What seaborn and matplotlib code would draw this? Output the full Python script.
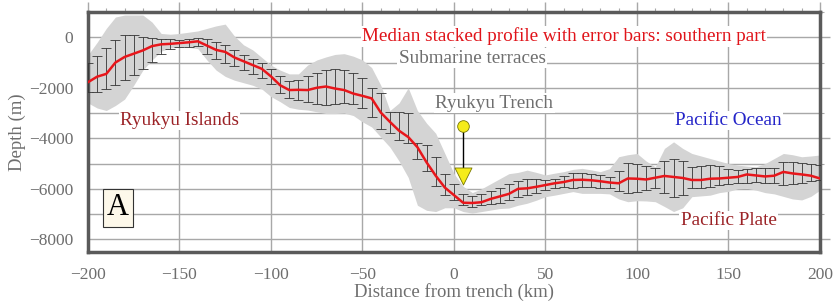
import numpy as np
import pandas as pd
import seaborn as sns
import matplotlib.pyplot as plt
from matplotlib.ticker import MultipleLocator

# distance from trench (km), every 5 km
distance = list(range(-200, 205, 5))

# median stacked depth (m)
median = [-1780, -1560, -1450, -1000, -780, -650, -520, -350, -280, -260,
          -230, -200, -160, -330, -500, -580, -800, -950, -1100, -1250,
          -1550, -1900, -2090, -2080, -2090, -2000, -1950, -2030, -2090, -2230,
          -2320, -2420, -2980, -3350, -3700, -3950, -4350, -4950, -5480, -5950,
          -6250, -6550, -6560, -6530, -6400, -6300, -6200, -6000, -5980, -5920,
          -5850, -5780, -5730, -5650, -5640, -5660, -5700, -5750, -5780, -5590,
          -5600, -5630, -5560, -5490, -5530, -5570, -5650, -5650, -5600, -5590,
          -5560, -5530, -5430, -5470, -5510, -5480, -5330, -5390, -5430, -5480,
          -5590]

# error bar top / bottom (m)
err_hi = [-1000, -750, -420, -100, 90, 70, 20, -20, -50, -80,
          -100, -60, -20, -80, -200, -300, -500, -700, -850, -1000,
          -1250, -1550, -1750, -1700, -1550, -1400, -1300, -1270, -1280, -1400,
          -1600, -2000, -2200, -2950, -2950, -3000, -4200, -4250, -4750, -5400,
          -5800, -6200, -6300, -6200, -6100, -5950, -5800, -5700, -5600, -5600,
          -5650, -5600, -5500, -5390, -5390, -5400, -5450, -5520, -5300, -4990,
          -5030, -5100, -5190, -4900, -4800, -4900, -5130, -5100, -5060, -5100,
          -5200, -5260, -5200, -5190, -5190, -5190, -4950, -4950, -4990, -5030,
          -5060]
err_lo = [-2150, -2150, -2050, -1900, -1700, -1500, -1250, -980, -650, -470,
          -400, -380, -350, -650, -850, -1000, -1150, -1300, -1450, -1600,
          -1850, -2200, -2400, -2500, -2580, -2650, -2690, -2650, -2600, -2650,
          -2800, -3150, -3650, -3800, -4050, -4200, -4800, -5300, -5900, -6250,
          -6450, -6650, -6700, -6650, -6600, -6550, -6450, -6330, -6250, -6150,
          -6050, -5980, -5920, -5980, -5920, -5920, -5950, -5980, -6100, -6180,
          -6140, -6050, -5980, -6150, -6310, -6250, -5980, -5950, -5920, -5850,
          -5800, -5780, -5750, -5720, -5750, -5780, -5850, -5800, -5780, -5700,
          -5650]

# min / max envelope (m)
env_hi = [-700, -200, 350, 800, 880, 880, 880, 600, 150, 120,
          150, 200, 250, 350, 450, 520, 50, -300, -500, -800,
          -1100, -1300, -1450, -1450, -1100, -900, -780, -680, -650, -750,
          -900, -1200, -1900, -2900, -2600, -2000, -2900, -3400, -3800, -4600,
          -5400, -5900, -6150, -6000, -5800, -5600, -5400, -5350, -5260, -5350,
          -5450, -5380, -5320, -5230, -5190, -5250, -5320, -5200, -4730, -4650,
          -4600, -4900, -5130, -4400, -4140, -4400, -4600, -4700, -4800, -4900,
          -5000, -5060, -5100, -5130, -5000, -4800, -4600, -4650, -4730, -4700,
          -4660]
env_lo = [-2600, -2800, -2900, -2700, -2450, -1900, -1300, -900, -550, -420,
          -400, -400, -450, -900, -1300, -1550, -1700, -1800, -1900, -2050,
          -2350, -2550, -2780, -2850, -2880, -2950, -3020, -3020, -3000, -3100,
          -3350, -3550, -3950, -4350, -4900, -5550, -6650, -6850, -6900, -6750,
          -6750, -6900, -6960, -6900, -6840, -6780, -6760, -6650, -6570, -6450,
          -6310, -6250, -6180, -6110, -6180, -6180, -6180, -6200, -6400, -6510,
          -6470, -6480, -6510, -6700, -6900, -6750, -6310, -6280, -6250, -6150,
          -6100, -6000, -5980, -6050, -6150, -6200, -6300, -6400, -6440, -6300,
          -6050]

df = pd.DataFrame({"distance": distance, "median": median,
                   "err_hi": err_hi, "err_lo": err_lo,
                   "env_hi": env_hi, "env_lo": env_lo})

# trench marker
trench_x = 5
trench_top = -3520
trench_tip = -5500

sns.set_style("white")
plt.rcParams["font.family"] = ["Liberation Serif", "DejaVu Serif"]

fig = plt.figure(figsize=(8.34, 3.06), dpi=100)
ax = fig.add_axes([0.1055, 0.1765, 0.8777, 0.7843])

grid_c = "#a8a8a8"
ax.fill_between(df["distance"], df["env_lo"], df["env_hi"], color="#d4d4d4", lw=0, zorder=2)
ax.errorbar(df["distance"], df["median"],
            yerr=[df["median"] - df["err_lo"], df["err_hi"] - df["median"]],
            fmt="none", ecolor="#333333", elinewidth=0.6, capsize=3.5, capthick=0.6, zorder=3)
sns.lineplot(data=df, x="distance", y="median", color="#e8161b", lw=1.8, ax=ax, zorder=4)

ax.plot([trench_x, trench_x], [trench_top, trench_tip], color="black", lw=1, zorder=5)
ax.scatter([trench_x], [trench_top], s=70, color="#f5ec1a", edgecolor="#777700", lw=0.6, zorder=6)
ax.scatter([trench_x], [trench_tip], s=150, marker="v", color="#f5ec1a", edgecolor="#777700", lw=0.6, zorder=6)

ax.set_xlim(-200, 200)
ax.set_ylim(-8500, 1000)
ax.xaxis.set_major_locator(MultipleLocator(50))
ax.xaxis.set_minor_locator(MultipleLocator(10))
ax.yaxis.set_major_locator(MultipleLocator(2000))
ax.yaxis.set_minor_locator(MultipleLocator(1000))
ax.grid(True, axis="x", which="major", color=grid_c, lw=1, zorder=0)
ax.grid(True, axis="y", which="both", color=grid_c, lw=1, zorder=0)
ax.set_axisbelow(True)

ax.tick_params(axis="both", which="major", direction="out", length=7, width=1, color=grid_c,
               labelsize=12.5, labelcolor="#6e6e6e", top=True, right=True)
ax.tick_params(axis="both", which="minor", direction="out", length=3, width=0.8, color=grid_c,
               top=True, right=True)
for s in ax.spines.values():
    s.set_color("#5a5a5a")
    s.set_linewidth(2.5)

ax.set_xlabel("Distance from trench (km)", fontsize=13.5, color="#6e6e6e", labelpad=0)
ax.set_ylabel("Depth (m)", fontsize=13.5, color="#6e6e6e", labelpad=2)

box = dict(facecolor="white", edgecolor="none", pad=1)
fs = 13.8
ax.text(60, 30, "Median stacked profile with error bars: southern part", color="#e0141a",
        fontsize=fs, ha="center", va="center", bbox=box, zorder=7)
ax.text(10, -830, "Submarine terraces", color="#6e6e6e", fontsize=fs, ha="center", va="center",
        bbox=box, zorder=7)
ax.text(22, -2610, "Ryukyu Trench", color="#6e6e6e", fontsize=fs, ha="center", va="center",
        bbox=box, zorder=7)
ax.text(-150, -3300, "Ryukyu Islands", color="#9b2226", fontsize=fs, ha="center", va="center",
        bbox=box, zorder=7)
ax.text(150, -3300, "Pacific Ocean", color="#2424c8", fontsize=fs, ha="center", va="center",
        bbox=box, zorder=7)
ax.text(150, -7250, "Pacific Plate", color="#9b2226", fontsize=fs, ha="center", va="center",
        bbox=box, zorder=7)
ax.text(-183.5, -6750, "A", color="black", fontsize=22, ha="center", va="center", zorder=7,
        bbox=dict(facecolor="#fdf8ea", edgecolor="#333333", lw=0.8, pad=3))

fig.savefig("out.png", dpi=100)
